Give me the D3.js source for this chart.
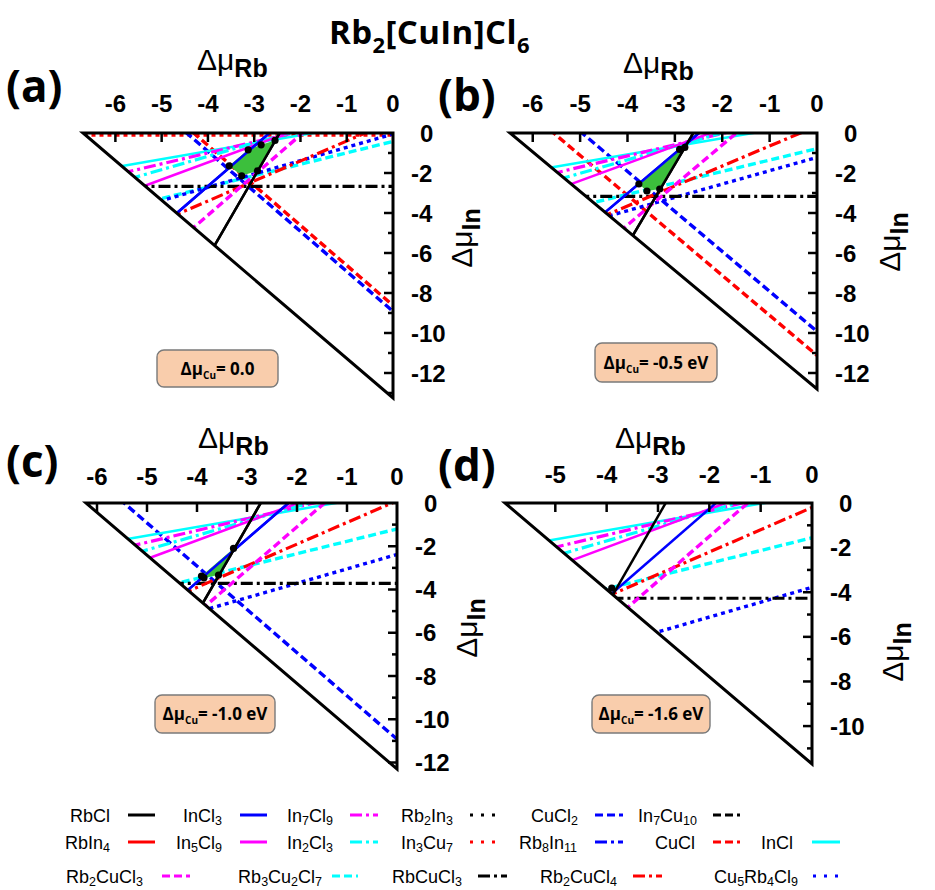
<!DOCTYPE html>
<html>
<head>
<meta charset="utf-8">
<script src="https://cdn.jsdelivr.net/npm/d3@7"></script>
<style>
  body { margin: 0; background: #fff; }
  svg { display: block; }
</style>
</head>
<body>
<svg id="chart" width="935" height="890"></svg>
<script>
// ---- compounds and their line styles ----
const compounds = ["RbCl", "RbIn4", "InCl3", "In5Cl9", "In7Cl9", "In2Cl3", "Rb2In3", "In3Cu7",
  "CuCl2", "Rb8In11", "In7Cu10", "CuCl", "InCl", "Rb2CuCl3", "Rb3Cu2Cl7", "RbCuCl3", "Rb2CuCl4", "Cu5Rb4Cl9"];
const compoundColors = ["#000000", "#ff0000", "#0000ff", "#ff00ff", "#ff00ff", "#00ffff", "#000000", "#ff0000",
  "#0000ff", "#0000ff", "#000000", "#ff0000", "#00ffff", "#ff00ff", "#00ffff", "#000000", "#ff0000", "#0000ff"];
const compoundStyles = ["solid", "solid", "solid", "solid", "dashdot", "dashdot", "dotted", "dotted",
  "dashed", "dashdot", "dashed", "dashed", "solid", "dashed", "dashed", "dashdot", "dashdot", "dotted"];

// ---- panels ----
const panelTags = ["(a)", "(b)", "(c)", "(d)"];
const cuLabels = ["0.0", "-0.5 eV", "-1.0 eV", "-1.6 eV"];
const rbLimits = [-6.7, -6.48, -6.22, -5.98];     // Δμ_Rb where the Cl-rich boundary meets Δμ_In = 0
const inLimits = [-13.25, -12.8, -12.3, -11.7];   // Δμ_In where it meets Δμ_Rb = 0
const rbTickValues = [[-6, -5, -4, -3, -2, -1, 0], [-6, -5, -4, -3, -2, -1, 0],
  [-6, -5, -4, -3, -2, -1, 0], [-5, -4, -3, -2, -1, 0]];
const inTickValues = [[0, -2, -4, -6, -8, -10, -12], [0, -2, -4, -6, -8, -10, -12],
  [0, -2, -4, -6, -8, -10, -12], [0, -2, -4, -6, -8, -10]];

// boundary lines: [compound, Δμ_Rb1, Δμ_In1, Δμ_Rb2, Δμ_In2]
const linesA = [
  ["In3Cu7", -6.7, -0.1, 0, -0.1],
  ["CuCl", -4.31, 0, 0, -8.62],
  ["CuCl2", -4.46, 0, 0, -8.92],
  ["InCl", -5.83, -1.64, -1.73, 0],
  ["In7Cl9", -5.69, -1.92, -2.17, 0],
  ["In2Cl3", -5.55, -2.2, -2.25, 0],
  ["In5Cl9", -5.34, -2.62, -2.28, 0],
  ["Rb3Cu2Cl7", -4.99, -3.27, 0, -0.42],
  ["Cu5Rb4Cl9", -4.97, -3.36, 0, -0.05],
  ["RbCuCl3", -5.3, -2.67, 0, -2.67],
  ["Rb2CuCl4", -4.63, -4.03, -0.6, 0],
  ["Rb2CuCl3", -4.28, -4.67, -1.95, 0],
  ["InCl3", -4.67, -4.0, -2.67, 0],
  ["RbCl", -3.85, -5.6, -2.45, 0]
];
const linesB = [
  ["CuCl", -5.56, 0, 0, -11.12],
  ["CuCl2", -4.96, 0, 0, -9.92],
  ["InCl", -5.56, -1.7, -1.35, 0],
  ["In7Cl9", -5.44, -1.95, -1.95, 0],
  ["In2Cl3", -5.3, -2.22, -2.02, 0],
  ["In5Cl9", -5.15, -2.52, -2.25, 0],
  ["Rb3Cu2Cl7", -4.67, -3.45, 0, -0.78],
  ["Cu5Rb4Cl9", -4.34, -4.11, 0, -1.22],
  ["RbCuCl3", -4.82, -3.17, 0, -3.17],
  ["Rb2CuCl4", -4.38, -4.03, -0.35, 0],
  ["Rb2CuCl3", -4.05, -4.7, -1.7, 0],
  ["InCl3", -4.445, -3.91, -2.49, 0],
  ["RbCl", -3.87, -5.05, -2.61, 0]
];
const linesC = [
  ["CuCl2", -5.46, 0, 0, -10.92],
  ["InCl", -5.33, -1.64, -1.225, 0],
  ["In7Cl9", -5.19, -1.92, -1.66, 0],
  ["In2Cl3", -5.05, -2.2, -1.75, 0],
  ["In5Cl9", -4.9, -2.5, -1.98, 0],
  ["Rb3Cu2Cl7", -4.32, -3.67, 0, -1.2],
  ["Cu5Rb4Cl9", -3.72, -4.86, 0, -2.38],
  ["RbCuCl3", -4.29, -3.72, 0, -3.72],
  ["Rb2CuCl4", -4.13, -4.03, -0.1, 0],
  ["Rb2CuCl3", -3.8, -4.7, -1.45, 0],
  ["InCl3", -4.16, -3.98, -2.17, 0],
  ["RbCl", -3.87, -4.57, -2.725, 0]
];
const linesD = [
  ["InCl", -5.03, -1.64, -0.925, 0],
  ["In7Cl9", -4.89, -1.92, -1.36, 0],
  ["In2Cl3", -4.75, -2.2, -1.45, 0],
  ["In5Cl9", -4.6, -2.5, -1.68, 0],
  ["Rb3Cu2Cl7", -3.94, -3.81, 0, -1.56],
  ["Cu5Rb4Cl9", -2.97, -5.76, 0, -3.78],
  ["RbCuCl3", -3.72, -4.27, 0, -4.27],
  ["Rb2CuCl4", -3.83, -4.03, 0, -0.2],
  ["Rb2CuCl3", -3.55, -4.6, -1.25, 0],
  ["InCl3", -3.86, -3.98, -1.87, 0],
  ["RbCl", -3.85, -4.0, -2.85, 0]
];

// stable region corners [Δμ_Rb, Δμ_In]
const regionA = [[-2.55, -0.37], [-2.85, -0.59], [-3.13, -0.84], [-3.54, -1.64], [-3.27, -2.14], [-2.93, -1.89]];
const regionB = [[-2.79, -0.72], [-2.9, -0.82], [-3.76, -2.55], [-3.59, -2.9], [-3.32, -2.8]];
const regionC = [[-3.27, -2.1], [-3.91, -3.38], [-3.86, -3.46], [-3.57, -3.33]];
const regionD = [[-3.9, -3.82]];

const panelLines = [linesA, linesB, linesC, linesD];
const panelRegions = [regionA, regionB, regionC, regionD];

// ---- page layout ----
const frames = [
  { x0: 83, x1: 393, y0: 133, y1: 398, tag: [6, 102], rb: [197, 70], inl: [472, 238], box: [157, 350, 121, 37], tickGap: 21 },
  { x0: 510, x1: 817, y0: 133, y1: 389, tag: [438, 111], rb: [623, 73], inl: [900, 242], box: [595, 343, 122, 39], tickGap: 21 },
  { x0: 86, x1: 397, y0: 503, y1: 769, tag: [6, 477], rb: [198, 448], inl: [477, 628], box: [155, 695, 120, 38], tickGap: 18 },
  { x0: 505, x1: 812, y0: 503, y1: 764, tag: [438, 481], rb: [615, 448], inl: [903, 652], box: [592, 695, 118, 38], tickGap: 20 }
];

const dashFor = { solid: null, dashed: "8,4", dashdot: "12,4,3,4", dotted: "4,4" };
const widthFor = { solid: 2.5, dashed: 3.4, dashdot: 3.2, dotted: 3.4 };
const styleOf = name => {
  const i = compounds.indexOf(name);
  return { color: compoundColors[i], style: compoundStyles[i] };
};

const svg = d3.select("#chart");
svg.append("rect").attr("width", 935).attr("height", 890).attr("fill", "#fff");

// chemical formula with subscripted digits
function formula(sel, str, subSize, shift) {
  const parts = str.split(/(\d+)/).filter(s => s.length);
  let low = false;
  parts.forEach(p => {
    const num = /^\d+$/.test(p);
    const t = sel.append("tspan").text(p);
    if (num) {
      t.attr("font-size", subSize);
      if (!low) { t.attr("dy", shift); low = true; }
    } else if (low) {
      t.attr("dy", -shift); low = false;
    }
  });
}

// title
const title = svg.append("text")
  .attr("x", 329).attr("y", 44)
  .attr("font-family", "'Open Sans', sans-serif").attr("font-weight", 700)
  .attr("font-size", 33).attr("letter-spacing", 0.4).attr("fill", "#000");
formula(title, "Rb2[CuIn]Cl6", 22, 9);

const tickFont = "'Liberation Sans', Arial, sans-serif";

frames.forEach((f, p) => {
  const x = d3.scaleLinear().domain([rbLimits[p], 0]).range([f.x0, f.x1]);
  const y = d3.scaleLinear().domain([0, inLimits[p]]).range([f.y0, f.y1]);
  const g = svg.append("g");

  const tri = [[x(rbLimits[p]), y(0)], [x(0), y(0)], [x(0), y(inLimits[p])]];
  const clipId = "clip" + p;
  svg.append("clipPath").attr("id", clipId)
    .append("polygon").attr("points", tri.map(d => d.join(",")).join(" "));

  const plot = g.append("g").attr("clip-path", `url(#${clipId})`);
  const drawLine = (sel, d) => {
    const s = styleOf(d[0]);
    const dx = d[3] - d[1], dy = d[4] - d[2];
    const e = 0.05;
    sel.append("line")
      .attr("x1", x(d[1] - e * dx)).attr("y1", y(d[2] - e * dy))
      .attr("x2", x(d[3] + e * dx)).attr("y2", y(d[4] + e * dy))
      .attr("stroke", s.color)
      .attr("stroke-width", widthFor[s.style])
      .attr("stroke-dasharray", dashFor[s.style]);
  };
  panelLines[p].forEach(d => drawLine(plot, d));

  // stable region
  const reg = panelRegions[p];
  if (reg.length > 2) {
    plot.append("polygon")
      .attr("points", reg.map(d => [x(d[0]), y(d[1])].join(",")).join(" "))
      .attr("fill", "#3cbf3c");
    panelLines[p].filter(d => d[0] === "RbCl" || d[0] === "InCl3").forEach(d => drawLine(plot, d));
  }
  g.selectAll("circle.pt").data(reg).join("circle")
    .attr("cx", d => x(d[0])).attr("cy", d => y(d[1])).attr("r", 3.6).attr("fill", "#000");

  // ticks on the top edge (inward)
  rbTickValues[p].filter(v => v < 0).forEach(v => {
    g.append("line").attr("x1", x(v)).attr("x2", x(v)).attr("y1", y(0)).attr("y2", y(0) + 9)
      .attr("stroke", "#000").attr("stroke-width", 2.5);
  });
  // ticks on the right edge (inward), majors every 2
  for (let v = -1; v > inLimits[p]; v--) {
    const len = v % 2 === 0 ? 9 : 5;
    g.append("line").attr("x1", x(0) - len).attr("x2", x(0)).attr("y1", y(v)).attr("y2", y(v))
      .attr("stroke", "#000").attr("stroke-width", 2.5);
  }

  // frame
  g.append("polygon").attr("points", tri.map(d => d.join(",")).join(" "))
    .attr("fill", "none").attr("stroke", "#000").attr("stroke-width", 3).attr("stroke-linejoin", "miter");

  // tick labels
  g.selectAll("text.rb").data(rbTickValues[p]).join("text")
    .attr("x", d => x(d)).attr("y", f.y0 - f.tickGap)
    .attr("text-anchor", "middle")
    .attr("font-family", tickFont).attr("font-weight", 700).attr("font-size", 24)
    .text(d => d);
  g.selectAll("text.in").data(inTickValues[p]).join("text")
    .attr("x", d => f.x1 + (d === 0 ? 27 : 18)).attr("y", d => y(d)).attr("dy", "0.36em")
    .attr("font-family", tickFont).attr("font-weight", 700).attr("font-size", 24)
    .text(d => d);

  // axis titles
  const rbT = g.append("text").attr("x", f.rb[0]).attr("y", f.rb[1])
    .attr("font-family", tickFont);
  rbT.append("tspan").attr("font-size", 30).text("Δμ");
  rbT.append("tspan").attr("font-size", 25).attr("font-weight", 700).attr("dy", 7).text("Rb");

  const inT = g.append("text")
    .attr("transform", `translate(${f.inl[0]},${f.inl[1]}) rotate(-90)`)
    .attr("text-anchor", "middle").attr("font-family", tickFont);
  inT.append("tspan").attr("font-size", 30).text("Δμ");
  inT.append("tspan").attr("font-size", 25).attr("font-weight", 700).attr("dy", 8).text("In");

  // panel tag
  g.append("text").attr("x", f.tag[0]).attr("y", f.tag[1])
    .attr("font-family", "'Open Sans', sans-serif").attr("font-weight", 700).attr("font-size", 44)
    .text(panelTags[p]);

  // Δμ_Cu box
  const [bx, by, bw, bh] = f.box;
  g.append("rect").attr("x", bx).attr("y", by).attr("width", bw).attr("height", bh)
    .attr("rx", 7).attr("fill", "#f9cdac").attr("stroke", "#7a7a7a").attr("stroke-width", 1.4);
  const bt = g.append("text").attr("x", bx + bw / 2).attr("y", by + bh / 2 + 6)
    .attr("text-anchor", "middle")
    .attr("font-family", "'Open Sans', sans-serif").attr("font-weight", 700).attr("font-size", 17);
  bt.append("tspan").text("Δμ");
  bt.append("tspan").attr("font-size", 10).attr("dy", 4).text("Cu");
  bt.append("tspan").attr("dy", -4).text("= " + cuLabels[p]);
});

// ---- legend ----
// [compound, text right edge, line start, line end, row]
const legendSlots = [
  ["RbCl", 110, 128, 155, 0], ["InCl3", 222, 240, 267, 0], ["In7Cl9", 333, 350, 378, 0],
  ["Rb2In3", 453, 470, 495, 0], ["CuCl2", 578, 595, 623, 0], ["In7Cu10", 697, 713, 740, 0],
  ["RbIn4", 110, 128, 155, 1], ["In5Cl9", 222, 240, 267, 1], ["In2Cl3", 333, 350, 378, 1],
  ["In3Cu7", 453, 470, 495, 1], ["Rb8In11", 577, 595, 623, 1], ["CuCl", 695, 713, 740, 1],
  ["InCl", 793, 812, 840, 1],
  ["Rb2CuCl3", 143, 162, 190, 2], ["Rb3Cu2Cl7", 322, 332, 358, 2], ["RbCuCl3", 462, 478, 507, 2],
  ["Rb2CuCl4", 617, 633, 662, 2], ["Cu5Rb4Cl9", 798, 813, 840, 2]
];
const rowY = [815, 842, 876];
const legend = svg.append("g");
legendSlots.forEach(s => {
  const st = styleOf(s[0]);
  const yy = rowY[s[4]];
  const t = legend.append("text").attr("x", s[1]).attr("y", yy + 6.5)
    .attr("text-anchor", "end").attr("font-family", tickFont).attr("font-size", 18);
  formula(t, s[0], 12.5, 3.5);
  legend.append("line").attr("x1", s[2]).attr("x2", s[3]).attr("y1", yy).attr("y2", yy)
    .attr("stroke", st.color).attr("stroke-width", 3)
    .attr("stroke-dasharray", st.style === "dotted" ? "3,8" : dashFor[st.style]);
});
</script>
</body>
</html>
